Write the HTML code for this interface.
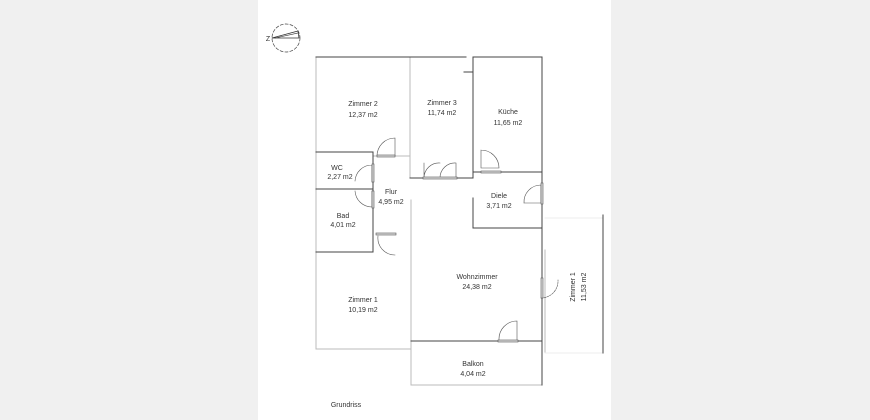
<!DOCTYPE html>
<html><head><style>
html,body{margin:0;padding:0;background:#f0f0f0;}
#w{position:absolute;left:258px;top:0;width:353px;height:420px;background:#fff;}
svg{position:absolute;left:0;top:0;}
text{font-family:"Liberation Sans",sans-serif;font-size:7px;fill:#333;text-anchor:middle;}
</style></head><body>
<div id="w"></div>
<svg width="870" height="420" viewBox="0 0 870 420">
<g fill="none" stroke-linecap="square">
<!-- compass -->
<circle cx="286" cy="38" r="14" stroke="#444" stroke-width="0.7" stroke-dasharray="3,2"/>
<path d="M272 38 L298 31 L299 38 Z" stroke="#333" stroke-width="0.8"/>
<path d="M275 38 L298 33" stroke="#333" stroke-width="0.6"/>
<!-- light walls -->
<g stroke="#bbb" stroke-width="1">
<path d="M316 57 V349 H411"/>
<path d="M410 57 V157"/>
<path d="M410 157 V178"/>
<path d="M411 200 V385 H542"/>
<path d="M373 156 H410"/>
<path d="M545 250 V353"/>
<path d="M545 218 H603 M545 353 H603" stroke="#eee"/>
</g>
<!-- dark walls -->
<g stroke="#444" stroke-width="1">
<path d="M316 57 H466"/><path d="M473 57 H542 V385"/>
<path d="M464 72 H473"/>
<path d="M473 57 V178"/>
<path d="M410 178 H473"/>
<path d="M473 172 H542"/>
<path d="M316 152 H373 V188"/>
<path d="M316 189 H373 V252 H316"/>
<path d="M473 198 V228 H542"/>
<path d="M411 341 H542"/>
<path d="M603 215 V353"/>
</g>
<!-- doors -->
<g stroke="#555" stroke-width="0.6">
<path d="M377 156 A18 18 0 0 1 395 138 V156"/>
<rect x="377" y="155" width="18" height="2" fill="#ddd"/>
<path d="M355 181 A17 17 0 0 1 372 165 M372 165 V182" />
<rect x="372" y="164" width="2" height="18" fill="#ddd"/>
<path d="M355 191 A17 17 0 0 0 372 207 V191"/>
<rect x="372" y="191" width="2" height="17" fill="#ddd"/>
<path d="M424 178 A15 15 0 0 1 440 163 M440 178 A15 15 0 0 1 456 163 M424 163 V178 M456 163 V178"/>
<rect x="423" y="177" width="34" height="2" fill="#ddd"/>
<path d="M481 150 A18 18 0 0 1 499 168 H481 V150"/>
<rect x="481" y="171" width="20" height="2" fill="#ddd"/>
<path d="M524 203 A17 17 0 0 1 541 185 V203 H524"/>
<rect x="541" y="183" width="2" height="21" fill="#ddd"/>
<path d="M378 236 A17 17 0 0 0 395 255 M378 234 H395"/>
<rect x="376" y="233" width="20" height="2" fill="#ddd"/>
<path d="M541 298 A17 17 0 0 0 558 280" stroke-dasharray="2,1"/>
<rect x="541" y="278" width="2" height="20" fill="#ddd"/>
<path d="M499 340 A18 18 0 0 1 517 321 V340"/>
<rect x="498" y="340" width="20" height="2" fill="#ddd"/>
</g>
</g>
<text x="268" y="41" font-size="7">Z</text>
<text x="363" y="106">Zimmer 2</text><text x="363" y="117">12,37 m2</text>
<text x="442" y="105">Zimmer 3</text><text x="442" y="115">11,74 m2</text>
<text x="508" y="114">Küche</text><text x="508" y="125">11,65 m2</text>
<text x="337" y="170">WC</text><text x="340" y="179">2,27 m2</text>
<text x="391" y="194">Flur</text><text x="391" y="204">4,95 m2</text>
<text x="499" y="198">Diele</text><text x="499" y="208">3,71 m2</text>
<text x="343" y="218">Bad</text><text x="343" y="227">4,01 m2</text>
<text x="477" y="279">Wohnzimmer</text><text x="477" y="289">24,38 m2</text>
<text x="363" y="302">Zimmer 1</text><text x="363" y="312">10,19 m2</text>
<text x="473" y="366">Balkon</text><text x="473" y="376">4,04 m2</text>
<text transform="translate(575,287) rotate(-90)">Zimmer 1</text>
<text transform="translate(586,287) rotate(-90)">11,53 m2</text>
<text x="346" y="407" font-size="7.5">Grundriss</text>
</svg>
</body></html>
